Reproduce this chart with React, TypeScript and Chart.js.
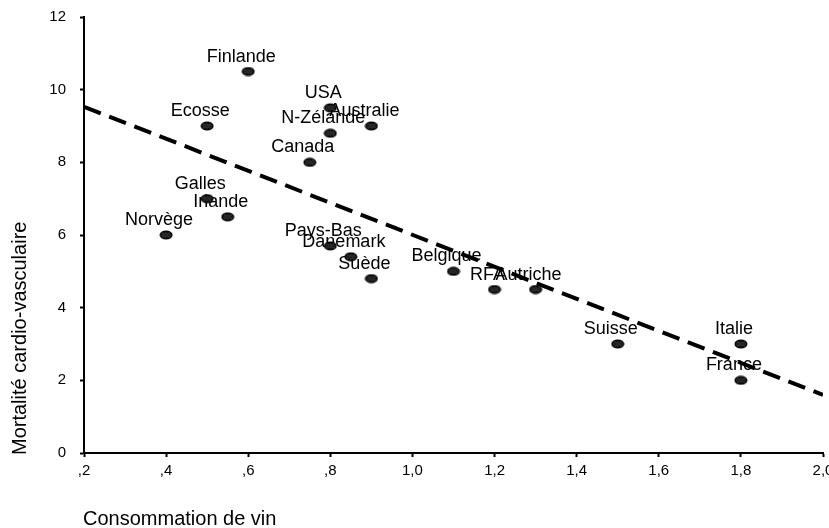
import React, { useEffect, useRef } from "react";
import { Chart, registerables } from "chart.js";

Chart.register(...registerables);

const countries = [
  "Finlande", "Ecosse", "USA", "Australie", "N-Zélande", "Canada", "Galles", "Irlande", "Norvège",
  "Pays-Bas", "Danemark", "Suède", "Belgique", "RFA", "Autriche", "Suisse", "Italie", "France",
];
const wine = [0.6, 0.5, 0.8, 0.9, 0.8, 0.75, 0.5, 0.55, 0.4, 0.8, 0.85, 0.9, 1.1, 1.2, 1.3, 1.5, 1.8, 1.8];
const mortality = [10.5, 9.0, 9.5, 9.0, 8.8, 8.0, 7.0, 6.5, 6.0, 5.7, 5.4, 4.8, 5.0, 4.5, 4.5, 3.0, 3.0, 2.0];
const trendX = [0.2, 2.0];
const trendY = [9.53, 1.6];
const xTitle = "Consommation de vin";
const yTitle = "Mortalité cardio-vasculaire";

const FONT = "'Liberation Sans', Arial, sans-serif";

function makeMarker(): HTMLCanvasElement {
  const m = document.createElement("canvas");
  m.width = 14;
  m.height = 10;
  const c = m.getContext("2d")!;
  c.fillStyle = "#050505";
  c.beginPath();
  c.ellipse(7, 5, 6.5, 4.5, 0, 0, Math.PI * 2);
  c.fill();
  c.strokeStyle = "#4a4a4a";
  c.lineWidth = 0.8;
  for (const x of [4, 7, 10]) {
    c.beginPath();
    c.ellipse(x, 5, 1.1, 2.4, 0, 0, Math.PI * 2);
    c.stroke();
  }
  return m;
}

const labelPlugin = {
  id: "countryLabels",
  beforeDatasetsDraw(chart: any) {
    const ctx = chart.ctx;
    const meta = chart.getDatasetMeta(0);
    ctx.save();
    ctx.font = `18px ${FONT}`;
    ctx.fillStyle = "#000";
    ctx.textAlign = "center";
    ctx.textBaseline = "alphabetic";
    meta.data.forEach((pt: any, i: number) => {
      ctx.fillText(countries[i], pt.x - 7, pt.y - 10);
    });
    ctx.restore();
  },
  afterDraw(chart: any) {
    const ctx = chart.ctx;
    ctx.save();
    ctx.fillStyle = "#000";
    ctx.font = `20px ${FONT}`;
    ctx.textAlign = "left";
    ctx.textBaseline = "alphabetic";
    ctx.fillText(xTitle, 83, 525);
    ctx.translate(26, 455);
    ctx.rotate(-Math.PI / 2);
    ctx.fillText(yTitle, 0, 0);
    ctx.restore();
  },
};

function fmtX(v: number): string {
  const s = v.toFixed(1).replace(".", ",");
  return s.startsWith("0") ? s.slice(1) : s;
}

export default function App() {
  const ref = useRef<HTMLCanvasElement>(null);
  useEffect(() => {
    document.body.style.margin = "0";
    const marker = makeMarker();
    const chart = new Chart(ref.current!, {
      type: "scatter",
      data: {
        datasets: [
          {
            label: "pays",
            data: wine.map((x, i) => ({ x, y: mortality[i] })),
            pointStyle: marker as any,
            pointRadius: 5,
            showLine: false,
          },
          {
            label: "tendance",
            data: trendX.map((x, i) => ({ x, y: trendY[i] })),
            showLine: true,
            borderColor: "#000",
            borderWidth: 4,
            borderDash: [18, 9],
            pointRadius: 0,
            fill: false,
          },
        ],
      },
      options: {
        responsive: false,
        animation: false,
        layout: { padding: { top: 17, right: 6, left: 0, bottom: 0 } },
        plugins: { legend: { display: false }, tooltip: { enabled: false } },
        scales: {
          x: {
            type: "linear",
            min: 0.2,
            max: 2.0,
            border: { display: true, color: "#000", width: 2 },
            grid: { drawOnChartArea: false, drawTicks: true, tickLength: 4, tickWidth: 2, tickColor: "#000" },
            ticks: {
              stepSize: 0.2,
              color: "#000",
              font: { family: FONT, size: 15 },
              padding: 5,
              maxRotation: 0,
              autoSkip: false,
              callback: (v: any) => fmtX(Number(v)),
            },
            afterFit: (s: any) => {
              s.height = 75;
              s.paddingLeft = 0;
              s.paddingRight = 0;
            },
          },
          y: {
            type: "linear",
            min: 0,
            max: 12,
            border: { display: true, color: "#000", width: 2 },
            grid: { drawOnChartArea: false, drawTicks: true, tickLength: 4, tickWidth: 2, tickColor: "#000" },
            ticks: {
              stepSize: 2,
              color: "#000",
              font: { family: FONT, size: 15 },
              padding: 14,
            },
            afterFit: (s: any) => {
              s.width = 84;
              s.paddingTop = 0;
              s.paddingBottom = 0;
            },
          },
        },
      },
      plugins: [labelPlugin],
    });
    return () => chart.destroy();
  }, []);
  return (
    <div style={{ position: "absolute", left: 0, top: 0, width: 829, height: 528 }}>
      <canvas ref={ref} width={829} height={528} />
    </div>
  );
}
